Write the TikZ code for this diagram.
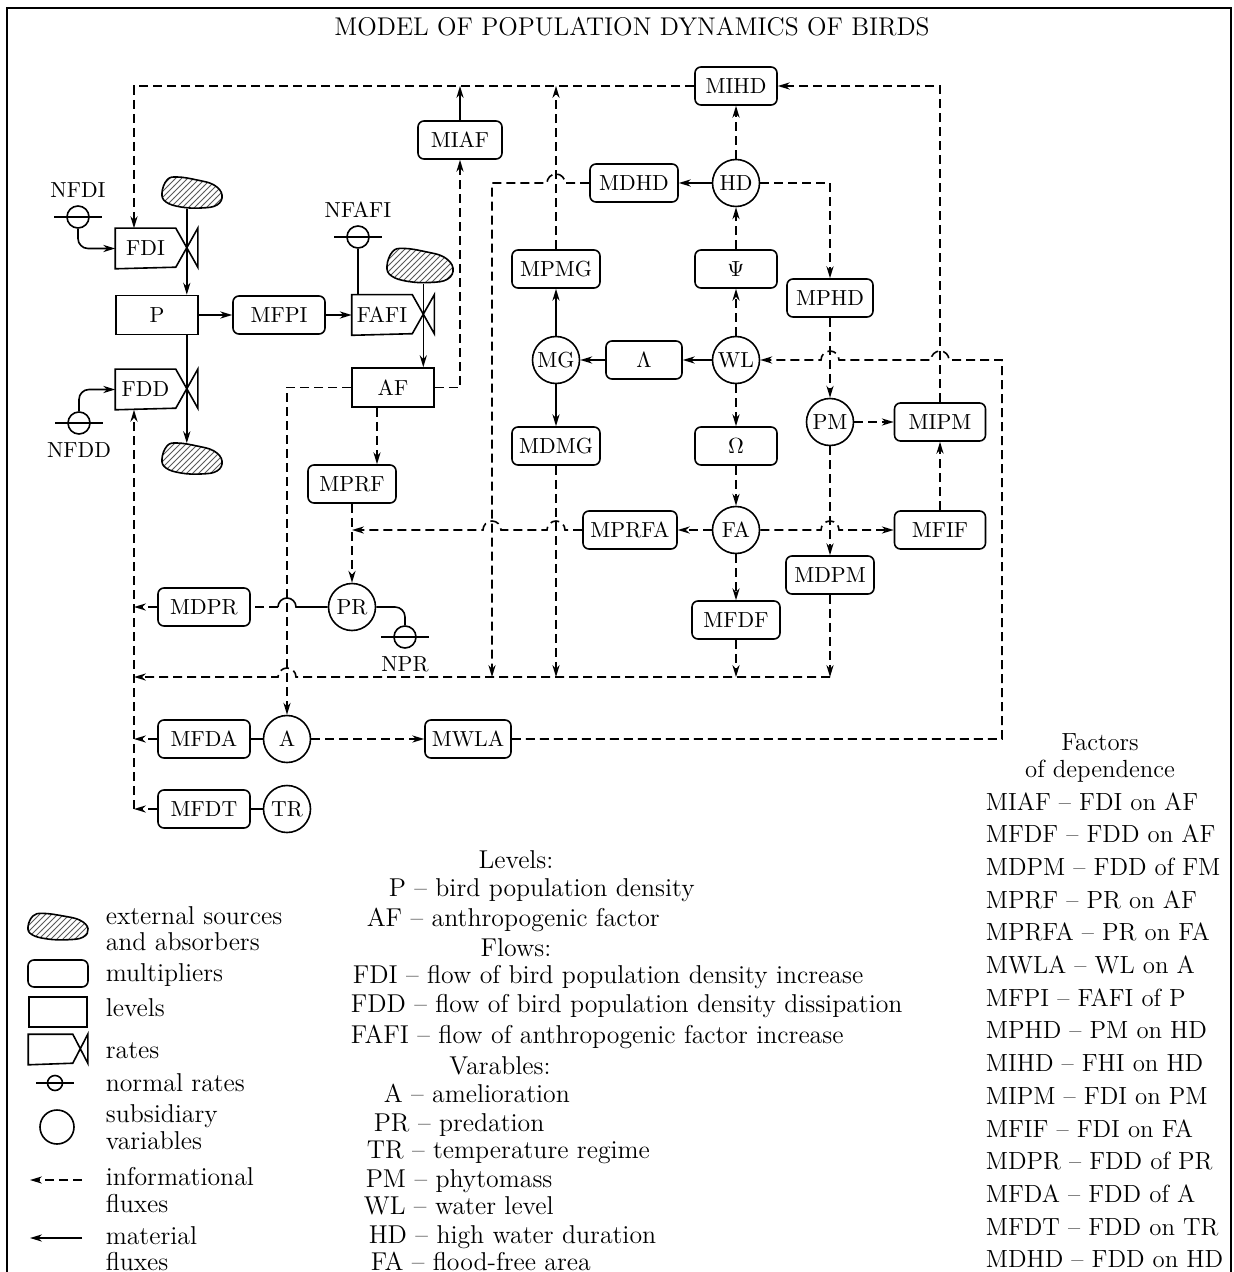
\documentclass[tikz,border=0pt]{standalone}
\usepackage{fontspec}
\usetikzlibrary{arrows.meta,patterns}

\newcommand{\bdnodefont}{\fontsize{10.9pt}{13pt}\selectfont}
\newcommand{\bdlegfont}{\fontsize{12.9pt}{15pt}\selectfont}
\newcommand{\bdfacfont}{\fontsize{12.4pt}{15pt}\selectfont}
% rate symbol: box with a valve on its right side
\newcommand{\ratevalve}[3][22]{\draw (#2.north west) -- (#2.north east) -- ++(#1,#3) -- ++(0,-#3) -- ++(-#1,#3) -- (#2.south west) -- cycle;}
% jump of a line over a crossing vertical line
\newcommand{\hopleft}[1]{-- ([xshift=4.5pt]#1) arc[start angle=0, end angle=180, radius=4.5pt]}
\newcommand{\hopright}[1]{-- ([xshift=-4.5pt]#1) arc[start angle=180, end angle=0, radius=4.5pt]}

\tikzset{
  mult/.style={draw, rounded corners=3pt, minimum width=43pt, minimum height=19pt, inner sep=1pt, font=\bdnodefont},
  lvlbox/.style={draw, minimum width=41pt, minimum height=19.5pt, inner sep=1pt, font=\bdnodefont},
  ratebox/.style={minimum width=29.5pt, minimum height=19.5pt, inner sep=0pt, font=\bdnodefont},
  subvar/.style={draw, circle, minimum size=23.5pt, inner sep=0pt, font=\bdnodefont},
  normrate/.style={draw, circle, minimum size=11pt, inner sep=0pt, label distance=1pt},
  srcbox/.style={minimum width=30pt, minimum height=15pt, inner sep=0pt},
  info/.style={dash pattern=on 4.5pt off 2.5pt},
  legtext/.style={anchor=base west, inner sep=0pt, font=\bdlegfont},
  blob/.pic={
    \draw[pattern=north east lines, pattern color=black!65, preaction={fill=white}]
      plot[smooth cycle, tension=0.7] coordinates {(-30,0) (-25,-13) (-15,-16) (5,-13) (22,-8) (30,2) (25,12) (9,15) (-11,14) (-26,9)};
  }
}

\begin{document}
\begin{tikzpicture}[x=0.5pt, y=-0.5pt, line width=0.8pt, >={Stealth[length=6pt, width=3.6pt]}]
\useasboundingbox (0,0) rectangle (1234,1272);
% frame and title
\draw[line width=1.1pt] (7,1290) -- (7,8) -- (1231,8) -- (1231,1290);
\node[font=\fontsize{12.8pt}{15pt}\selectfont] (title) at (632,27) {MODEL OF POPULATION DYNAMICS OF BIRDS};

% columns and rows of the long connectors
\coordinate (colL) at (134,0);
\coordinate (colD) at (492,0);
\coordinate (colR) at (1002,0);
\coordinate (rowB) at (0,677);

% levels, rates, sources and sinks
\node[lvlbox] (P) at (157,315) {P};
\node[lvlbox] (AF) at (393,387.5) {AF};
\node[ratebox] (FDI) at (145.5,248.5) {FDI};
\node[ratebox] (FDD) at (145.5,389.5) {FDD};
\node[ratebox] (FAFI) at (382,315) {FAFI};
\ratevalve{FDI}{39}
\ratevalve{FDD}{39}
\ratevalve{FAFI}{39}
\coordinate (vFDI) at ([xshift=5.5pt]FDI.east);
\coordinate (vFDD) at ([xshift=5.5pt]FDD.east);
\coordinate (vFAFI) at ([xshift=5.5pt]FAFI.east);
\node[srcbox] (srcFDI) at (192,193) {};
\node[srcbox] (snkFDD) at (192,459) {};
\node[srcbox, minimum height=17pt] (srcFAFI) at (420,266) {};

% normal rates
\node[normrate, label={[font=\bdnodefont]above:NFDI}] (nFDI) at (78,217) {};
\node[normrate, label={[font=\bdnodefont]below:NFDD}] (nFDD) at (79,423) {};
\node[normrate, label={[font=\bdnodefont]above:NFAFI}] (nFAFI) at (358,237) {};
\node[normrate, label={[font=\bdnodefont]below:NPR}] (nPR) at (405,637) {};
\foreach \n in {nFDI,nFDD,nFAFI,nPR}
  \draw ([xshift=-12pt]\n.center) -- ([xshift=12pt]\n.center);

% multipliers
\node[mult, minimum width=46pt] (MFPI) at (279,315) {MFPI};
\node[mult, minimum width=42pt] (MIAF) at (460,140) {MIAF};
\node[mult, minimum width=41pt] (MIHD) at (736,86) {MIHD};
\node[mult, minimum width=44pt] (MDHD) at (634,183) {MDHD};
\node[mult, minimum width=44pt] (MPMG) at (556,269) {MPMG};
\node[mult, minimum width=41pt] (Psi) at (736,269) {$\Psi$};
\node[mult] (MPHD) at (830,298) {MPHD};
\node[mult, minimum width=38pt] (Lam) at (644,360) {$\Lambda$};
\node[mult, minimum width=44pt] (MDMG) at (556,446) {MDMG};
\node[mult, minimum width=41pt] (Omg) at (736,446) {$\Omega$};
\node[mult, minimum width=45.5pt] (MIPM) at (940,422) {MIPM};
\node[mult, minimum width=44pt] (MPRF) at (352,484) {MPRF};
\node[mult, minimum width=47pt] (MPRFA) at (630,530) {MPRFA};
\node[mult, minimum width=45.5pt] (MFIF) at (940,530) {MFIF};
\node[mult, minimum width=44pt] (MDPM) at (830,575) {MDPM};
\node[mult, minimum width=44pt] (MFDF) at (736,620) {MFDF};
\node[mult, minimum width=46pt] (MDPR) at (204,607) {MDPR};
\node[mult, minimum width=46pt] (MFDA) at (204,739) {MFDA};
\node[mult] (MWLA) at (468,739) {MWLA};
\node[mult, minimum width=46pt] (MFDT) at (204,809) {MFDT};

% subsidiary variables
\node[subvar] (HD) at (736,183) {HD};
\node[subvar] (MG) at (556,360) {MG};
\node[subvar] (WL) at (736,360) {WL};
\node[subvar] (PM) at (830,422) {PM};
\node[subvar] (FA) at (736,530) {FA};
\node[subvar] (PR) at (352,607) {PR};
\node[subvar] (A) at (287,739) {A};
\node[subvar] (TR) at (287,809) {TR};

% material fluxes
\draw[->] (vFDI |- srcFDI.south) -- (vFDI |- P.north);
\draw[->] (vFDD |- P.south) -- (vFDD |- snkFDD.north);
\draw[->] (P) -- (MFPI);
\draw[->] (MFPI) -- (FAFI);
\draw[->] (vFAFI |- srcFAFI.south) -- (vFAFI |- AF.north);
\draw (nFAFI) -- (nFAFI |- FAFI.north);
\draw[->, rounded corners=5pt] (nFDI.south) |- (FDI.west);
\draw[->, rounded corners=5pt] (nFDD.north) |- (FDD.west);
\draw[rounded corners=5pt] (PR.east) -| (nPR.north);
\draw[->] (WL) -- (Lam);
\draw[->] (Lam) -- (MG);
\draw[->] (MG) -- (MPMG);
\draw[->] (MG) -- (MDMG);
\draw[->] (HD) -- (MDHD);
\draw[->] (MIAF.north) -- (MIAF.north |- MIHD.west);
\draw (A) -- (MFDA);
\draw (TR) -- (MFDT);
\coordinate (xAPR) at (A |- PR);
\draw (PR.west) \hopleft{xAPR};
\draw[info] ([xshift=-4.5pt]xAPR) -- (MDPR.east);
\pic at (srcFDI) {blob};
\pic at (snkFDD) {blob};
\pic[scale=1.1] at (srcFAFI) {blob};

% informational fluxes
\draw[info,->] (MIHD.west) -- (colL |- MIHD.west) -- (colL |- FDI.north);
\draw[info,->] (MPMG.north) -- (MPMG.north |- MIHD.west);
\draw[info,->] (AF.east) -| (MIAF.south);
\draw[info,->] (AF.west) -| (A.north);
\coordinate (afm) at ([xshift=-8pt]AF.south);
\draw[info,->] (afm) -- (afm |- MPRF.north);
\draw[info,->] (MPRF) -- (PR);
\coordinate (xGF) at (MG |- FA);
\coordinate (xDF) at (colD |- FA);
\draw[info,->] (MPRFA.west) \hopleft{xGF} \hopleft{xDF} -- (PR |- MPRFA.west);
\draw[info,->] (FA) -- (MPRFA);
\coordinate (xMF) at (PM |- FA);
\draw[info,->] (FA.east) \hopright{xMF} -- (MFIF.west);
\draw[info,->] (PM) -- (MDPM);
\draw[info,->] (MDPM.south) -- (MDPM.south |- rowB);
\draw[info,->] (MFDF.south) -- (MFDF.south |- rowB);
\draw[info,->] (MDMG.south) -- (MDMG.south |- rowB);
\coordinate (xAB) at (A |- rowB);
\draw[info,->] (PM |- rowB) \hopleft{xAB} -- (colL |- rowB);
\coordinate (xGH) at (MG |- HD);
\draw[info,->] (MDHD.west) \hopleft{xGH} -- (colD |- HD) -- (colD |- rowB);
\draw[info,->] (PM) -- (MIPM);
\draw[info,->] (MFIF) -- (MIPM);
\draw[info,->] (MIPM.north) |- (MIHD.east);
\draw[info,->] (HD.east) -| (MPHD.north);
\draw[info,->] (MPHD) -- (PM);
\coordinate (xIW) at (MIPM |- WL);
\coordinate (xMW) at (PM |- WL);
\draw[info,->] (MWLA.east) -- (colR |- MWLA.east) -- (colR |- WL) \hopleft{xIW} \hopleft{xMW} -- (WL.east);
\draw[info,->] (WL) -- (Psi);
\draw[info,->] (Psi) -- (HD);
\draw[info,->] (HD) -- (MIHD);
\draw[info,->] (WL) -- (Omg);
\draw[info,->] (Omg) -- (FA);
\draw[info,->] (FA) -- (MFDF);
\draw[info,->] (A) -- (MWLA);
\draw[info,->] (MDPR.west) -- (colL |- MDPR.west);
\draw[info,->] (MFDA.west) -- (colL |- MFDA.west);
\draw[info,->] (MFDT.west) -- (colL |- MFDT.west);
\draw[info,->] (colL |- MFDT.west) -- (colL |- FDD.south);

% legend of symbols
\pic[yscale=0.85] at (58,927) {blob};
\node[mult, minimum width=30pt, minimum height=13.5pt] (legM) at (58,973.5) {};
\node[lvlbox, minimum width=29pt, minimum height=15pt] (legL) at (58,1012) {};
\node[ratebox, minimum width=21.5pt, minimum height=14.5pt] (legR) at (50.5,1049.5) {};
\ratevalve[15]{legR}{29}
\node[normrate, minimum size=7.5pt] (legN) at (55,1083) {};
\draw ([xshift=-9.5pt]legN.center) -- ([xshift=9.5pt]legN.center);
\node[subvar, minimum size=17pt] (legS) at (57,1127) {};
\coordinate (legIa) at (82,1180);
\coordinate (legIb) at (30,1180);
\draw[info,->] (legIa) -- (legIb);
\coordinate (legFa) at (82,1238);
\coordinate (legFb) at (30,1238);
\draw[->] (legFa) -- (legFb);
\foreach \y/\t [count=\i] in {916/external sources, 942/and absorbers, 973/multipliers,
  1008/levels, 1050/rates, 1083/normal rates, 1114/subsidiary, 1141/variables,
  1177/informational, 1204/fluxes, 1236/material, 1262/fluxes}
  \node[legtext] (lgS\i) at (105,\y+8) {\t};

% legend of names
\node[legtext, anchor=base] (lgLev) at (516,868) {Levels:};
\node[legtext, anchor=base] (lgFlo) at (516,956) {Flows:};
\node[legtext, anchor=base] (lgVar) at (500,1074) {Varables:};
\foreach \x/\y/\t [count=\i] in {388/888/P -- bird population density,
  366/918/AF -- anthropogenic factor,
  352/975/FDI -- flow of bird population density increase,
  350/1004/FDD -- flow of bird population density dissipation,
  350/1035/FAFI -- flow of anthropogenic factor increase,
  383/1094/A -- amelioration,
  373/1123/PR -- predation,
  366/1150/TR -- temperature regime,
  365/1179/PM -- phytomass,
  363/1206/WL -- water level,
  368/1235/HD -- high water duration,
  370/1262/FA -- flood-free area}
  \node[legtext] (lgN\i) at (\x,\y+8) {\t};

% factors of dependence
\node[legtext, anchor=base, font=\bdfacfont] (lgFac) at (1100,750) {Factors};
\node[legtext, anchor=base, font=\bdfacfont] (lgDep) at (1100,777) {of dependence};
\foreach \t [count=\i from 0] in {MIAF -- FDI on AF, MFDF -- FDD on AF, MDPM -- FDD of FM,
  MPRF -- PR on AF, MPRFA -- PR on FA, MWLA -- WL on A, MFPI -- FAFI of P,
  MPHD -- PM on HD, MIHD -- FHI on HD, MIPM -- FDI on PM, MFIF -- FDI on FA,
  MDPR -- FDD of PR, MFDA -- FDD of A, MFDT -- FDD on TR, MDHD -- FDD on HD}
  \node[legtext, font=\bdfacfont] (lgF\i) at (985,810+32.7*\i) {\t};
\end{tikzpicture}
\end{document}
